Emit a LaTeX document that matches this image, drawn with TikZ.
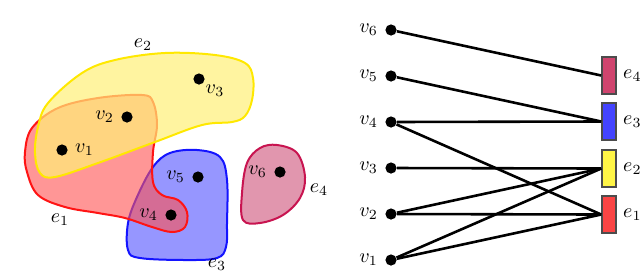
\documentclass[tikz,border=0pt]{standalone}
\begin{document}
\begin{tikzpicture}[x=0.5pt,y=-0.5pt,
  vdot/.style={circle,fill=black,inner sep=0pt,minimum size=5.6pt},
  hedge/.style={line width=1pt,fill opacity=0.6,smooth cycle,tension=0.6},
  link/.style={line width=1.3pt},
  ebox/.style={draw=black!70,line width=0.8pt,minimum width=7pt,minimum height=18.5pt,inner sep=0pt},
  elab/.style={anchor=west,inner sep=0pt,xshift=3pt}]
\useasboundingbox (0,0) rectangle (640,274);
\definecolor{cyel}{RGB}{255,232,0}
\definecolor{cyelf}{RGB}{255,240,120}
\definecolor{cred}{RGB}{255,20,20}
\definecolor{credf}{RGB}{255,80,80}
\definecolor{cblue}{RGB}{20,20,255}
\definecolor{cbluef}{RGB}{80,80,255}
\definecolor{cmag}{RGB}{200,20,80}
\definecolor{cmagf}{RGB}{205,80,120}
% blue e3
\draw[hedge,draw=cblue,fill=cbluef] plot coordinates {(170,153) (197,150) (220,157) (227,180) (227,223) (226,247) (217,258) (187,260) (140,258) (128,250) (128,223) (137,197) (153,167)};
% red e1
\draw[hedge,draw=cred,fill=credf] plot coordinates {(58,108) (98,98) (142,95) (153,102) (157,125) (153,152) (153,182) (162,195) (178,200) (187,212) (185,227) (172,232) (152,227) (125,218) (98,213) (65,207) (38,195) (27,172) (25,152) (32,128)};
% yellow e2
\draw[hedge,fill opacity=0.7,draw=cyel,fill=cyelf] plot coordinates {(165,53) (215,55) (245,63) (253,78) (252,100) (245,116) (232,122) (202,125) (155,142) (98,163) (55,177) (40,173) (35,153) (38,127) (48,103) (82,73) (115,60)};
% magenta e4
\draw[hedge,draw=cmag,fill=cmagf] plot coordinates {(277,145) (297,153) (305,177) (300,198) (283,215) (260,223) (243,220) (242,193) (247,163) (260,148)};
% left vertices
\node[vdot] (a1) at (62,150) {}; \node[right=0pt] at (a1.east) {$v_1$};
\node[vdot] (a2) at (127,117) {}; \node[left=0pt] at (a2.west) {$v_2$};
\node[vdot] (a3) at (199,79) {}; \node at (215,91) {$v_3$};
\node[vdot] (a4) at (171,215) {}; \node[left=0pt] at (a4.west) {$v_4$};
\node[vdot] (a5) at (198,177) {}; \node[left=0pt] at (a5.west) {$v_5$};
\node[vdot] (a6) at (280,172) {}; \node[left=0pt] at (a6.west) {$v_6$};
\node at (143,45) {$e_2$};
\node at (60,220) {$e_1$};
\node at (217,265) {$e_3$};
\node at (319,190) {$e_4$};
% right bipartite
\foreach \i/\y in {6/30,5/76,4/122,3/168,2/214,1/260}{
  \node[vdot] (v\i) at (391,\y) {};
  \node[left=0pt] at (v\i.west) {$v_\i$};
}
\node[ebox,fill={rgb,255:red,208;green,68;blue,110}] (e4) at (609,75.5) {};
\node[ebox,fill={rgb,255:red,68;green,68;blue,255}] (e3) at (609,121.5) {};
\node[ebox,fill={rgb,255:red,255;green,245;blue,70}] (e2) at (609,168.5) {};
\node[ebox,fill={rgb,255:red,250;green,68;blue,68}] (e1) at (609,214.5) {};
\foreach \i in {1,2,3,4}{ \node[elab] at (e\i.east) {$e_\i$}; }
\draw[link] (v6) -- (e4.west);
\draw[link] (v5) -- (e3.west);
\draw[link] (v4) -- (e3.west);
\draw[link] (v4) -- (e1.west);
\draw[link] (v3) -- (e2.west);
\draw[link] (v2) -- (e2.west);
\draw[link] (v2) -- (e1.west);
\draw[link] (v1) -- (e2.west);
\draw[link] (v1) -- (e1.west);
\end{tikzpicture}
\end{document}
